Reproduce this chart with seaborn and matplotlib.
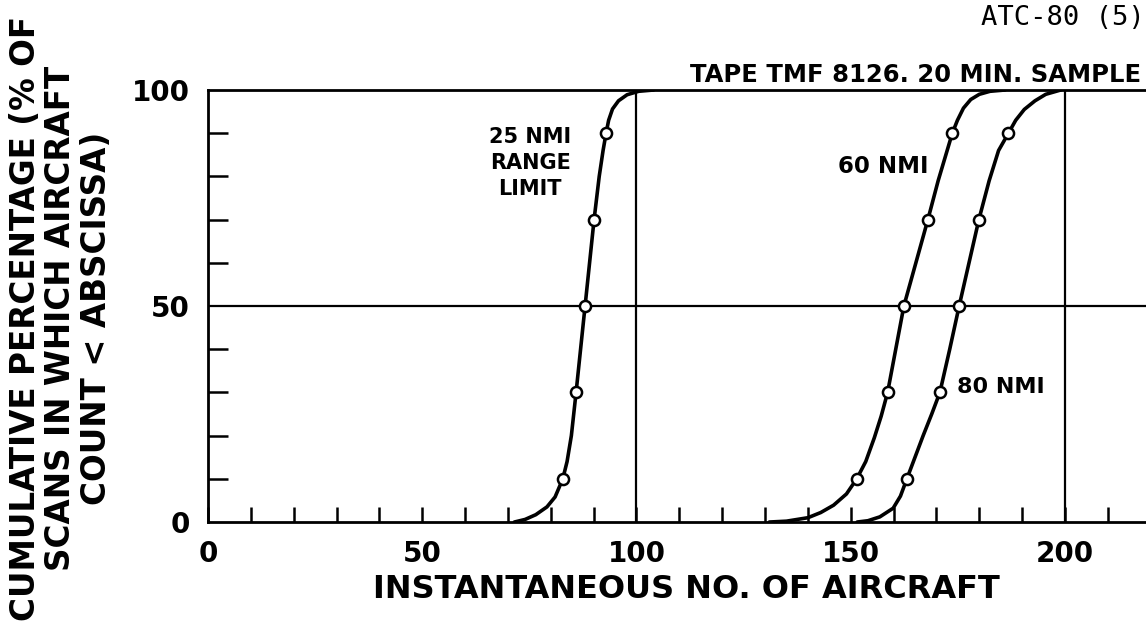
import matplotlib
matplotlib.use("Agg")
import matplotlib.pyplot as plt
import numpy as np
import pandas as pd
import seaborn as sns

sns.set_theme(style="white")
plt.rcParams["font.family"] = ["DejaVu Sans"]
plt.rcParams["text.color"] = "black"
plt.rcParams["xtick.color"] = "black"
plt.rcParams["ytick.color"] = "black"

# curves: (instantaneous count, cumulative %)
nmi25_x = [71.5, 74.0, 76.5, 79.1, 81.0, 82.8, 83.8, 84.8, 85.9, 88.0, 90.1, 91.3, 92.2, 92.9,
           93.5, 94.4, 95.8, 97.8, 100.5, 104.0]
nmi25_y = [0, 0.6, 1.7, 3.5, 5.8, 10, 14, 20, 30, 50, 70, 80, 86, 90,
           93, 95.6, 97.5, 98.9, 99.7, 100]

nmi60_x = [131.0, 135.0, 140.0, 143.0, 146.0, 149.0, 151.4, 153.5, 155.5, 157.1, 158.6, 160.5,
           162.4, 165.2, 168.0, 170.4, 172.5, 173.7, 174.9, 176.3, 178.0, 180.0, 182.5, 186.0]
nmi60_y = [0, 0.2, 1.0, 2.2, 3.9, 6.5, 10, 14, 19.5, 24.5, 30, 40,
           50, 60, 70, 79, 86, 90, 93, 95.8, 97.8, 99, 99.7, 100]

nmi80_x = [151.5, 154.0, 156.8, 159.9, 161.6, 163.1, 165.0, 166.9, 168.9, 170.8, 173.1,
           175.3, 177.6, 179.9, 182.3, 184.5, 186.8, 188.5, 190.5, 193.0, 195.5, 199.0]
nmi80_y = [0, 0.3, 1.2, 3.2, 6, 10, 15, 20, 25, 30, 40,
           50, 60, 70, 79, 86, 90, 93, 95.5, 97.5, 99, 100]

# plotted sample points (open circles)
pts_pct = [10, 30, 50, 70, 90]
pts25_x = [82.8, 85.9, 88.0, 90.1, 92.9]
pts60_x = [151.4, 158.6, 162.4, 168.0, 173.7]
pts80_x = [163.1, 170.8, 175.3, 179.9, 186.8]

x_major = [0, 50, 100, 150, 200]

curves = pd.concat([
    pd.DataFrame({"count": nmi25_x, "pct": nmi25_y, "range": "25 NMI"}),
    pd.DataFrame({"count": nmi60_x, "pct": nmi60_y, "range": "60 NMI"}),
    pd.DataFrame({"count": nmi80_x, "pct": nmi80_y, "range": "80 NMI"}),
], ignore_index=True)
points = pd.concat([
    pd.DataFrame({"count": pts25_x, "pct": pts_pct, "range": "25 NMI"}),
    pd.DataFrame({"count": pts60_x, "pct": pts_pct, "range": "60 NMI"}),
    pd.DataFrame({"count": pts80_x, "pct": pts_pct, "range": "80 NMI"}),
], ignore_index=True)

fig = plt.figure(figsize=(11.46, 6.32), dpi=100)
ax = fig.add_axes([0.1815, 0.174, 0.8226, 0.6836])

# reference lines
ax.axhline(50, color="black", lw=1.6, zorder=1)
for xv in (100, 200):
    ax.axvline(xv, color="black", lw=1.6, zorder=1)

for name, grp in curves.groupby("range"):
    sns.lineplot(data=grp, x="count", y="pct", sort=False, estimator=None,
                 color="black", lw=2.6, ax=ax, zorder=3, legend=False)
ax.plot(points["count"], points["pct"], "o", ms=8, mfc="white", mec="black",
        mew=1.8, zorder=4, ls="none")

ax.set_xlim(0, 220)
ax.set_ylim(0, 100)

ax.set_xticks(x_major)
ax.set_xticklabels([str(v) for v in x_major])
ax.set_xticks(np.arange(10, 220, 10), minor=True)
ax.set_yticks([0, 50, 100])
ax.set_yticklabels(["0", "50", "100"])
ax.set_yticks([10, 20, 30, 40, 60, 70, 80, 90], minor=True)

ax.tick_params(axis="x", which="both", direction="in", length=11, width=1.8,
               pad=13, labelsize=20)
ax.tick_params(axis="y", which="major", length=0, pad=13, labelsize=20)
ax.tick_params(axis="y", which="minor", direction="in", length=14.5, width=1.8, left=True)
ax.tick_params(axis="x", which="both", bottom=True)
for lab in ax.get_xticklabels() + ax.get_yticklabels():
    lab.set_fontweight("bold")
    lab.set_color("black")

for side in ("left", "bottom", "top"):
    ax.spines[side].set_color("black")
    ax.spines[side].set_linewidth(2.0)
ax.spines["right"].set_visible(False)

ax.set_xlabel("")
ax.set_ylabel("")
fig.text(686 / 1146, 1 - 590 / 632, "INSTANTANEOUS NO. OF AIRCRAFT",
         ha="center", va="center", fontsize=23, fontweight="bold")
fig.text(61 / 1146, 1 - 318 / 632,
         "CUMULATIVE PERCENTAGE (% OF\nSCANS IN WHICH AIRCRAFT\nCOUNT < ABSCISSA)",
         ha="center", va="center", rotation=90, multialignment="center",
         fontsize=23.5, fontweight="bold", linespacing=1.08)

fig.text(1141 / 1146, 1 - 75 / 632, "TAPE TMF 8126. 20 MIN. SAMPLE",
         ha="right", va="center", fontsize=17.5, fontweight="bold")
fig.text(981 / 1146, 1 - 18 / 632, "ATC-80 (5)", ha="left", va="center",
         fontsize=19.5, family="DejaVu Sans Mono")

ax.text(75.2, 83.1, "25 NMI\nRANGE\nLIMIT", ha="center", va="center",
        fontsize=15, fontweight="bold", linespacing=1.4)
ax.text(168.2, 82.2, "60 NMI", ha="right", va="center", fontsize=16.5, fontweight="bold")
ax.text(174.8, 31.2, "80 NMI", ha="left", va="center", fontsize=16, fontweight="bold")

fig.savefig("out.png", dpi=100)
